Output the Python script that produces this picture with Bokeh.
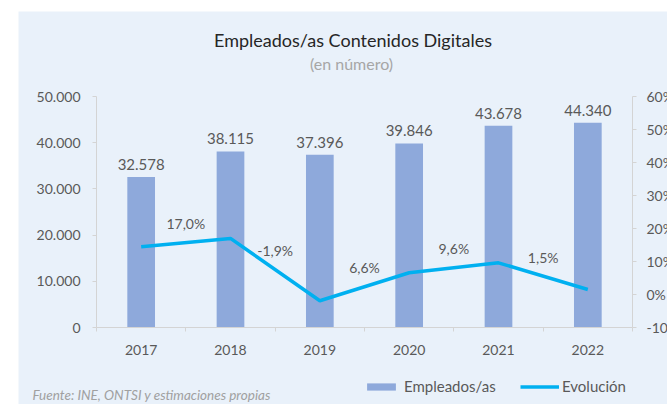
from bokeh.plotting import figure
from bokeh.models import (ColumnDataSource, Range1d, LinearAxis, FixedTicker,
                          LabelSet, Label, Legend, LegendItem)
from bokeh.core.properties import value
from bokeh.embed import file_html
from bokeh.resources import INLINE

# ---------------- data ----------------
years = ["2017", "2018", "2019", "2020", "2021", "2022"]
empleados = [32578, 38115, 37396, 39846, 43678, 44340]
empleados_labels = ["32.578", "38.115", "37.396", "39.846", "43.678", "44.340"]
evolucion = [14.5, 17.0, -1.9, 6.6, 9.6, 1.5]
evolucion_labels = ["", "17,0%", "-1,9%", "6,6%", "9,6%", "1,5%"]
left_ticks = [0, 10000, 20000, 30000, 40000, 50000]
left_tick_labels = ["0", "10.000", "20.000", "30.000", "40.000", "50.000"]
right_ticks = [-10, 0, 10, 20, 30, 40, 50, 60]
right_tick_labels = ["-10%", "0%", "10%", "20%", "30%", "40%", "50%", "60%"]
title_text = "Empleados/as Contenidos Digitales"
subtitle_text = "(en número)"
source_text = "Fuente: INE, ONTSI y estimaciones propias"
series_names = ["Empleados/as", "Evolución"]

# ---------------- style / geometry ----------------
FONT = "Lato"
BG = "#E9F1FA"
BAR = "#8EA9DB"
LINE = "#00B0F0"
AX = "#D4D4D4"
TXT = "#595959"

OX, OY = 18, 11          # figure origin on the page
W, H = 667 - OX, 404 - OY
PL, PR, PT, PB = 96, 632, 96, 327   # plot area on the page
n = len(years)
L0, L1 = left_ticks[0], left_ticks[-1]
R0, R1 = right_ticks[0], right_ticks[-1]

def px_x(page_x):
    return (page_x - PL) / (PR - PL) * n

def px_y(page_y):
    return L0 + (PB - page_y) / (PB - PT) * (L1 - L0)

def px_r(page_y):
    return R0 + (PB - page_y) / (PB - PT) * (R1 - R0)

p = figure(width=W, height=H,
           x_range=Range1d(px_x(OX), px_x(OX + W)),
           y_range=Range1d(px_y(OY + H), px_y(OY)),
           output_backend="svg", toolbar_location=None, x_axis_location=None, y_axis_location=None,
           min_border=0, background_fill_color=BG, border_fill_color=BG, outline_line_color=None,
           margin=(OY, 0, 0, OX))
p.grid.visible = False
p.extra_y_ranges = {"pct": Range1d(px_r(OY + H), px_r(OY))}

centers = [i + 0.5 for i in range(n)]  # category centres on the index scale
src = ColumnDataSource(dict(x=centers, year=years, emp=empleados, emp_lbl=empleados_labels,
                            evo=evolucion))

bars = p.vbar(x="x", top="emp", width=0.31, source=src, fill_color=BAR, line_color=None)
line = p.line(x="x", y="evo", y_range_name="pct", source=src, line_color=LINE, line_width=3.5)

p.add_layout(LabelSet(x="x", y="emp", text="emp_lbl", source=src, text_align="center",
                      text_baseline="bottom", y_offset=7, text_font=value(FONT),
                      text_font_size="15px", text_color=TXT))

# percentage labels between categories (above the segment)
mid = [(evolucion[i - 1] + evolucion[i]) / 2 for i in range(1, n)]
src_pct = ColumnDataSource(dict(x=list(range(1, n)), y=mid, t=evolucion_labels[1:]))
p.add_layout(LabelSet(x="x", y="y", text="t", source=src_pct, y_range_name="pct",
                      y_offset=19, text_align="center", text_baseline="middle",
                      text_font=value(FONT), text_font_size="14px", text_color=TXT))

def style_axis(ax):
    ax.axis_line_color = AX
    ax.major_tick_line_color = AX
    ax.major_tick_out = 4
    ax.major_tick_in = 0
    ax.minor_tick_line_color = None
    ax.major_label_standoff = 12
    ax.major_label_text_font = FONT
    ax.major_label_text_font_size = "14px"
    ax.major_label_text_color = TXT

left = LinearAxis(ticker=FixedTicker(ticks=left_ticks), fixed_location=0, bounds=(L0, L1),
                  major_label_overrides=dict(zip(left_ticks, left_tick_labels)))
style_axis(left)
p.add_layout(left, "left")

right = LinearAxis(y_range_name="pct", ticker=FixedTicker(ticks=right_ticks), fixed_location=n,
                   bounds=(R0, R1), major_label_overrides=dict(zip(right_ticks, right_tick_labels)))
style_axis(right)
right.major_label_standoff = 10
p.add_layout(right, "right")

bottom = LinearAxis(ticker=FixedTicker(ticks=centers, minor_ticks=list(range(n + 1))),
                    fixed_location=L0, bounds=(0, n),
                    major_label_overrides=dict(zip(centers, years)))
style_axis(bottom)
bottom.major_tick_line_color = None
bottom.major_tick_out = 0
bottom.minor_tick_line_color = AX
bottom.minor_tick_out = 4
bottom.minor_tick_in = 0
bottom.major_label_standoff = 13
p.add_layout(bottom, "below")

# titles and source note
p.add_layout(Label(x=px_x(352.5), y=px_y(39), text=title_text,
                   text_align="center", text_baseline="middle", text_font=FONT,
                   text_font_size="18px", text_color="#262626"))
p.add_layout(Label(x=px_x(351), y=px_y(63), text=subtitle_text,
                   text_align="center", text_baseline="middle", text_font=FONT,
                   text_font_size="16px", text_color="#A6A6A6"))
p.add_layout(Label(x=px_x(32), y=px_y(394), text=source_text,
                   text_align="left", text_baseline="middle", text_font=FONT,
                   text_font_style="italic", text_font_size="13.5px", text_color="#A0A0A0"))

# legends (location in px from the bottom-left of the canvas)
common = dict(orientation="horizontal", glyph_height=9, label_height=18, padding=0, margin=0,
              border_line_color=None, background_fill_alpha=0,
              label_text_font=FONT, label_text_font_size="15px", label_text_color=TXT)
leg1 = Legend(items=[LegendItem(label=series_names[0], renderers=[bars])],
              location=(363 - OX, OY + H - 395), glyph_width=36, label_standoff=5, **common)
leg2 = Legend(items=[LegendItem(label=series_names[1], renderers=[line])],
              location=(520 - OX, OY + H - 395), glyph_width=39, label_standoff=3, **common)
p.add_layout(leg1)
p.add_layout(leg2)

open("out.html", "w").write(file_html(p, INLINE))
